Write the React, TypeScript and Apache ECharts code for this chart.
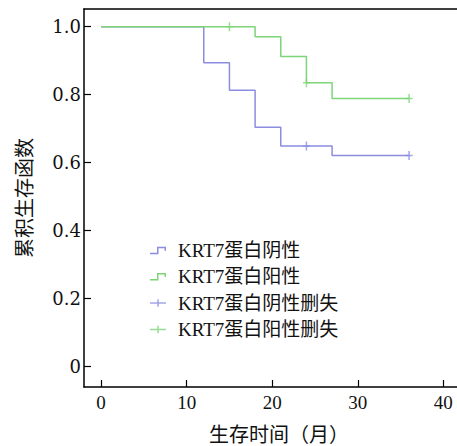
import React, { useEffect, useRef } from "react";
import * as echarts from "echarts";

const negName = "KRT7蛋白阴性";
const posName = "KRT7蛋白阳性";
const negCensName = "KRT7蛋白阴性删失";
const posCensName = "KRT7蛋白阳性删失";

// Kaplan-Meier steps [month, cumulative survival]
const negSteps: [number, number][] = [
  [0, 1.0],
  [12, 0.894],
  [15, 0.813],
  [18, 0.704],
  [21, 0.649],
  [27, 0.621],
  [36, 0.621],
];
const posSteps: [number, number][] = [
  [0, 1.0],
  [18, 0.97],
  [21, 0.912],
  [24, 0.835],
  [27, 0.789],
  [36, 0.789],
];
const negCensored: [number, number][] = [
  [24, 0.649],
  [36, 0.621],
];
const posCensored: [number, number][] = [
  [15, 1.0],
  [24, 0.835],
  [36, 0.789],
];

const xTicks = [0, 10, 20, 30, 40];
const yTicks = [0, 0.2, 0.4, 0.6, 0.8, 1.0];

const xTitle = "生存时间（月）";
const yTitle = "累积生存函数";

const BLUE = "#8a8de0";
const GREEN = "#7ed478";

const stepIcon =
  "path://M0,6 L7,6 L7,0 L16,0 L16,4 L14.5,4 L14.5,1.5 L8.5,1.5 L8.5,7.5 L0,7.5 Z";
const plusIcon =
  "path://M0,3 L7.25,3 L7.25,0 L8.75,0 L8.75,3 L16,3 L16,4.5 L8.75,4.5 L8.75,7.5 L7.25,7.5 L7.25,4.5 L0,4.5 Z";
const censorSymbol =
  "path://M0,3.75 L2.75,3.75 L2.75,0 L4.25,0 L4.25,3.75 L7,3.75 L7,5.25 L4.25,5.25 L4.25,9 L2.75,9 L2.75,5.25 L0,5.25 Z";

export default function App() {
  const ref = useRef<HTMLDivElement>(null);
  useEffect(() => {
    if (!ref.current) return;
    const chart = echarts.init(ref.current, undefined, { renderer: "svg" });
    const serifLatin = "'Liberation Serif', 'Noto Sans CJK SC', serif";
    chart.setOption({
      animation: false,
      backgroundColor: "#ffffff",
      grid: {
        left: 84,
        top: 9,
        right: 0,
        bottom: 59,
        containLabel: false,
        outerBoundsMode: "none",
      },
      xAxis: [
        {
          type: "value",
          min: -2,
          max: 41.6,
          splitLine: { show: false },
          axisLine: { show: true, onZero: false, lineStyle: { color: "#000", width: 1.5 } },
          axisTick: {
            show: true,
            inside: true,
            length: 7,
            customValues: xTicks,
            lineStyle: { color: "#000", width: 1.2 },
          },
          axisLabel: {
            customValues: xTicks,
            margin: 6,
            color: "#111",
            fontFamily: serifLatin,
            fontSize: 19,
            formatter: (v: number) => String(v),
          },
        },
        {
          type: "value",
          position: "top",
          min: -2,
          max: 41.6,
          splitLine: { show: false },
          axisLine: { show: true, onZero: false, lineStyle: { color: "#000", width: 1.5 } },
          axisTick: { show: false },
          axisLabel: { show: false },
        },
      ],
      yAxis: {
        type: "value",
        min: -0.06,
        max: 1.052,
        splitLine: { show: false },
        axisLine: { show: true, onZero: false, lineStyle: { color: "#000", width: 1.5 } },
        axisTick: {
          show: true,
          inside: true,
          length: 7,
          customValues: yTicks,
          lineStyle: { color: "#000", width: 1.2 },
        },
        axisLabel: {
          customValues: yTicks,
          margin: 3,
          color: "#111",
          fontFamily: "'DejaVu Serif', serif",
          fontSize: 18,
          formatter: (v: number) => (Math.abs(v) < 1e-9 ? "0" : v.toFixed(1)),
        },
        name: yTitle,
        nameLocation: "middle",
        nameGap: 51,
        nameRotate: 90,
        nameTextStyle: {
          fontFamily: "'Noto Sans CJK SC', sans-serif",
          fontSize: 20,
          color: "#111",
        },
      },
      legend: {
        orient: "vertical",
        left: 150,
        top: 240.5,
        padding: 0,
        itemWidth: 16,
        itemHeight: 7.5,
        itemGap: 6.3,
        selectedMode: false,
        itemStyle: { borderWidth: 0 },
        textStyle: {
          fontFamily: serifLatin,
          fontSize: 19,
          lineHeight: 20,
          color: "#111",
          padding: [0, 0, 0, 7],
        },
        data: [
          { name: negName, icon: stepIcon },
          { name: posName, icon: stepIcon },
          { name: negCensName, icon: plusIcon },
          { name: posCensName, icon: plusIcon },
        ],
      },
      graphic: [
        {
          type: "text",
          x: 279,
          y: 433,
          style: {
            text: xTitle,
            fontFamily: "'Noto Sans CJK SC', sans-serif",
            fontSize: 20,
            fill: "#111",
            align: "center",
            verticalAlign: "middle",
          },
        },
      ],
      series: [
        {
          name: negName,
          type: "line",
          step: "end",
          data: negSteps,
          symbol: "none",
          color: BLUE,
          itemStyle: { color: BLUE },
          lineStyle: { color: BLUE, width: 1.5 },
          z: 2,
        },
        {
          name: posName,
          type: "line",
          step: "end",
          data: posSteps,
          symbol: "none",
          color: GREEN,
          itemStyle: { color: GREEN },
          lineStyle: { color: GREEN, width: 1.5 },
          z: 3,
        },
        {
          name: negCensName,
          type: "scatter",
          data: negCensored,
          symbol: censorSymbol,
          symbolSize: [7, 9],
          itemStyle: { color: BLUE },
          z: 4,
        },
        {
          name: posCensName,
          type: "scatter",
          data: posCensored,
          symbol: censorSymbol,
          symbolSize: [7, 9],
          itemStyle: { color: GREEN },
          z: 5,
        },
      ],
    });
    return () => chart.dispose();
  }, []);
  return (
    <div
      ref={ref}
      style={{ position: "absolute", left: 0, top: 0, width: 457, height: 446 }}
    />
  );
}
